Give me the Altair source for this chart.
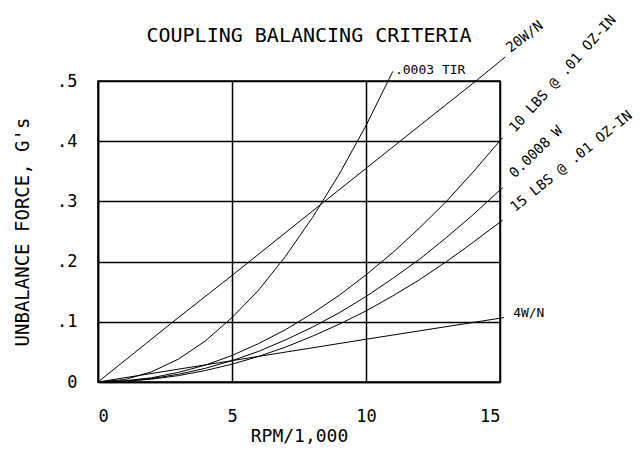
import altair as alt
import pandas as pd

FONT = "DejaVu Sans Mono"

title_text = ["COUPLING BALANCING CRITERIA"]

# axis ticks and labels
rpm_ticks = [0, 5, 10, 15]
rpm_tick_labels = ["0", "5", "10", "15"]
g_ticks = [0, 0.1, 0.2, 0.3, 0.4, 0.5]
g_tick_labels = ["0", ".1", ".2", ".3", ".4", ".5"]

# curves (RPM/1,000 -> G's)
tir_x = [0, 1, 2, 3, 4, 5, 6, 7, 8, 9, 10, 11]
tir_y = [0, 0.004, 0.017, 0.038, 0.068, 0.107, 0.153, 0.209, 0.273, 0.345, 0.426, 0.516]

w20_x = [0, 2.8, 5, 8.4, 11.3, 14.1, 15.2]
w20_y = [0, 0.1, 0.177, 0.298, 0.401, 0.5, 0.54]

lbs10_x = [0, 1, 2, 3, 4, 5, 6, 7, 8, 9, 10, 11, 12, 13, 14, 15.1]
lbs10_y = [0, 0.002, 0.007, 0.016, 0.028, 0.044, 0.064, 0.087, 0.114, 0.144,
           0.178, 0.215, 0.256, 0.300, 0.349, 0.406]

w0008_x = [0, 1, 2, 3, 4, 5, 6, 7, 8, 9, 10, 11, 12, 13, 14, 15.1]
w0008_y = [0, 0.0014, 0.0057, 0.0128, 0.0227, 0.0355, 0.051, 0.070, 0.091, 0.115,
           0.142, 0.172, 0.204, 0.240, 0.278, 0.323]

lbs15_x = [0, 1, 2, 3, 4, 5, 6, 7, 8, 9, 10, 11, 12, 13, 14, 15.1]
lbs15_y = [0, 0.0012, 0.0047, 0.0106, 0.019, 0.0296, 0.0426, 0.058, 0.076, 0.096,
           0.118, 0.143, 0.170, 0.200, 0.232, 0.269]

w4_x = [0, 5, 10, 15.15]
w4_y = [0, 0.0355, 0.071, 0.107]

# curve labels
rot_labels = ["20W/N", "10 LBS @ .01 OZ-IN", "0.0008 W", "15 LBS @ .01 OZ-IN"]
rot_x = [15.30, 15.45, 15.45, 15.47]
rot_y = [0.552, 0.418, 0.343, 0.287]
rot_angle = [323, 312, 316, 321]

flat_labels = [".0003 TIR", "4W/N"]
flat_x = [11.08, 15.49]
flat_y = [0.518, 0.115]

series = [
    (".0003 TIR", tir_x, tir_y),
    ("20W/N", w20_x, w20_y),
    ("10 LBS", lbs10_x, lbs10_y),
    ("0.0008 W", w0008_x, w0008_y),
    ("15 LBS", lbs15_x, lbs15_y),
    ("4W/N", w4_x, w4_y),
]
rows = []
for name, xs, ys in series:
    for xv, yv in zip(xs, ys):
        rows.append({"series": name, "rpm": xv, "g": yv})
lines_df = pd.DataFrame(rows)

rot_df = pd.DataFrame({"label": rot_labels, "rpm": rot_x, "g": rot_y, "angle": rot_angle})
flat_df = pd.DataFrame({"label": flat_labels, "rpm": flat_x, "g": flat_y})
title_df = pd.DataFrame({"t": title_text})


def label_expr(ticks, labels):
    expr = "''"
    for t, l in zip(reversed(ticks), reversed(labels)):
        expr = f"abs(datum.value - {t}) < 1e-6 ? '{l}' : ({expr})"
    return expr


x_scale = alt.Scale(domain=[0, 15], nice=False)
y_scale = alt.Scale(domain=[0, 0.5], nice=False)

x_enc = alt.X(
    "rpm:Q", scale=x_scale,
    axis=alt.Axis(values=rpm_ticks, labelExpr=label_expr(rpm_ticks, rpm_tick_labels),
                  title="RPM/1,000", labelPadding=26, titlePadding=3,
                  titleFontSize=18),
)
y_enc = alt.Y(
    "g:Q", scale=y_scale,
    axis=alt.Axis(values=g_ticks, labelExpr=label_expr(g_ticks, g_tick_labels),
                  title="UNBALANCE FORCE, G's", labelPadding=21, titlePadding=24,
                  titleFontSize=19),
)

lines = alt.Chart(lines_df).mark_line(color="black", strokeWidth=1).encode(
    x=x_enc, y=y_enc, detail="series:N", order="rpm:Q"
)

rot_text = alt.Chart(rot_df).mark_text(
    align="left", baseline="middle", font=FONT, fontSize=14, color="black"
).encode(
    x="rpm:Q", y="g:Q", text="label:N", angle=alt.Angle("angle:Q", scale=None)
)

flat_text = alt.Chart(flat_df).mark_text(
    align="left", baseline="middle", font=FONT, fontSize=13, color="black"
).encode(x="rpm:Q", y="g:Q", text="label:N")

title = alt.Chart(title_df).mark_text(
    align="center", baseline="alphabetic", font=FONT, fontSize=20, color="black"
).encode(x=alt.value(211), y=alt.value(-39), text="t:N")

chart = (
    alt.layer(lines, rot_text, flat_text, title)
    .properties(
        width=402,
        height=301,
        autosize=alt.AutoSizeParams(type="none"),
        padding={"left": 90, "top": 73, "right": 135, "bottom": 62},
    )
    .configure(background="white")
    .configure_view(stroke="black", strokeWidth=1.5)
    .configure_axis(
        domainColor="black", domainWidth=1.5, gridColor="black", gridWidth=1.5,
        gridOpacity=1, ticks=False, labelFont=FONT, labelFontSize=17, labelColor="black",
        titleFont=FONT, titleFontWeight="normal", titleColor="black",
    )
)

chart.save("out.html", embed_options={"renderer": "svg", "actions": False})
